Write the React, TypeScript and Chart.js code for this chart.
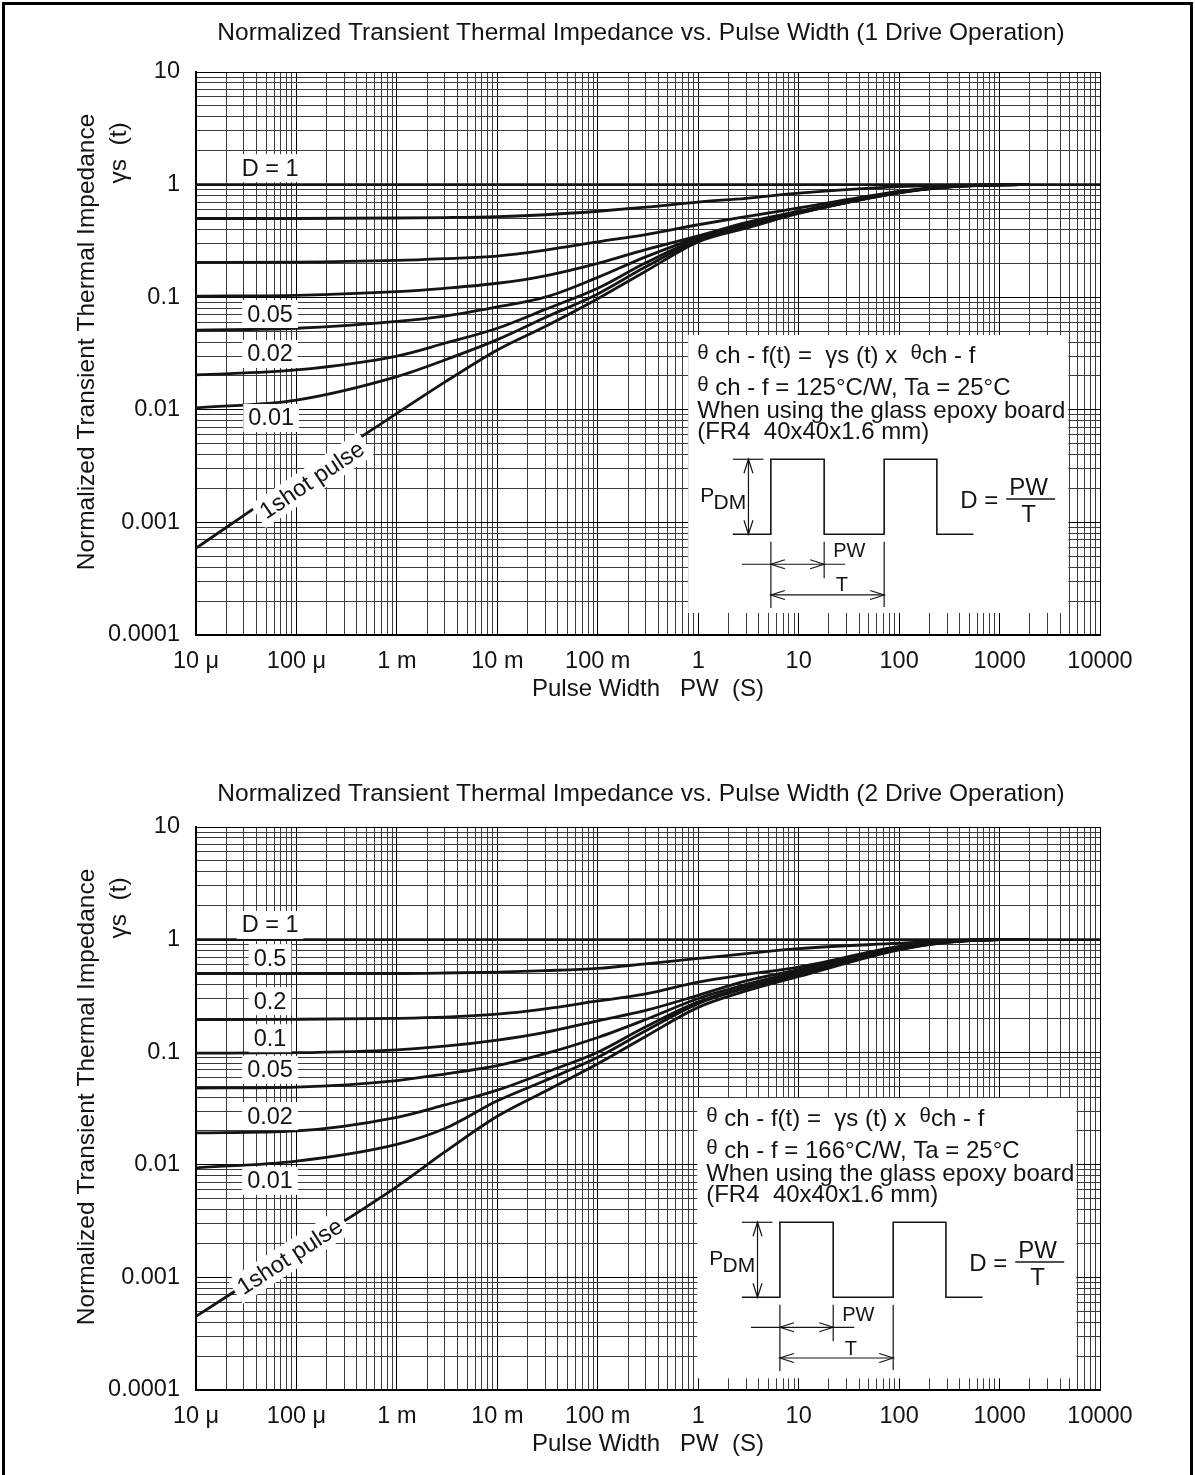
import React, { useEffect, useRef } from 'react';
import { Chart, registerables } from 'chart.js';

Chart.register(...registerables);

const FONT = '"Liberation Sans", Arial, Helvetica, sans-serif';
const INK = '#141414';

// ---------- data ----------
const pulseWidth = [1e-5, 1e-4, 1e-3, 3e-3, 1e-2, 3e-2, 0.1, 0.3, 1, 3, 10, 100, 300, 1000, 2000];
const unityPulseWidth = [1e-5, 1e4];
const unityValues = [1, 1];

// 1 drive operation
const drive1D05 = [0.5, 0.5, 0.505, 0.51, 0.52, 0.54, 0.58, 0.63, 0.7, 0.755, 0.84, 0.96, 0.985, 1.0, 1.0];
const drive1D02 = [0.204, 0.205, 0.212, 0.22, 0.232, 0.262, 0.31, 0.36, 0.44, 0.52, 0.62, 0.87, 0.96, 0.995, 1.0];
const drive1D01 = [0.102, 0.104, 0.112, 0.12, 0.133, 0.155, 0.2, 0.265, 0.35, 0.46, 0.58, 0.86, 0.955, 0.995, 1.0];
const drive1D005 = [0.051, 0.053, 0.061, 0.068, 0.082, 0.1, 0.15, 0.228, 0.34, 0.45, 0.57, 0.855, 0.955, 0.995, 1.0];
const drive1D002 = [0.0204, 0.0226, 0.03, 0.039, 0.053, 0.078, 0.12, 0.202, 0.33, 0.44, 0.565, 0.85, 0.955, 0.995, 1.0];
const drive1D001 = [0.0104, 0.0122, 0.0197, 0.0277, 0.042, 0.066, 0.107, 0.186, 0.32, 0.43, 0.56, 0.85, 0.95, 0.995, 1.0];
const drive1Single = [0.00059, 0.0024, 0.0093, 0.0176, 0.034, 0.055, 0.097, 0.17, 0.31, 0.41, 0.555, 0.845, 0.95, 0.995, 1.0];

// 2 drive operation
const drive2D05 = [0.5, 0.5, 0.5, 0.505, 0.515, 0.53, 0.555, 0.61, 0.68, 0.75, 0.83, 0.93, 0.98, 1.0, 1.0];
const drive2D02 = [0.195, 0.196, 0.2, 0.205, 0.218, 0.243, 0.285, 0.33, 0.42, 0.49, 0.57, 0.87, 0.965, 1.0, 1.0];
const drive2D01 = [0.098, 0.099, 0.105, 0.113, 0.128, 0.15, 0.19, 0.235, 0.32, 0.43, 0.54, 0.85, 0.96, 1.0, 1.0];
const drive2D005 = [0.048, 0.049, 0.056, 0.064, 0.076, 0.097, 0.135, 0.195, 0.3, 0.4, 0.52, 0.84, 0.955, 1.0, 1.0];
const drive2D002 = [0.0192, 0.02, 0.0264, 0.034, 0.046, 0.066, 0.1, 0.168, 0.28, 0.38, 0.5, 0.83, 0.95, 1.0, 1.0];
const drive2D001 = [0.0094, 0.0108, 0.0152, 0.021, 0.037, 0.056, 0.09, 0.155, 0.27, 0.37, 0.49, 0.82, 0.95, 1.0, 1.0];
const drive2Single = [0.00045, 0.0017, 0.0064, 0.013, 0.027, 0.045, 0.079, 0.138, 0.25, 0.35, 0.47, 0.81, 0.945, 1.0, 1.0];

const xTickLabels = ['10 μ', '100 μ', '1 m', '10 m', '100 m', '1', '10', '100', '1000', '10000'];
const yTickLabels = ['0.0001', '0.001', '0.01', '0.1', '1', '10'];

const xTickValues: number[] = [];
for (let e = -5; e < 4; e++) for (let m = 1; m < 10; m++) xTickValues.push(m * Math.pow(10, e));
xTickValues.push(1e4);
const yTickValues: number[] = [];
for (let e = -4; e < 1; e++) for (let m = 1; m < 10; m++) yTickValues.push(m * Math.pow(10, e));
yTickValues.push(10);

const isDecade = (v: number) => {
  const l = Math.log10(v);
  return Math.abs(l - Math.round(l)) < 1e-6;
};

// ---------- chart specs ----------
interface Spec {
  title: string;
  titleY: number;
  series: number[][];
  labels: { text: string; x: number; y: number }[];
  slant: { text: string; x: number; y: number };
  box: { x0: number; x1: number; yTop: number; yBottom: number };
  thetaValue: string;
}

const drive1Spec: Spec = {
  title: 'Normalized Transient Thermal Impedance vs. Pulse Width (1 Drive Operation)',
  titleY: 33,
  series: [drive1D05, drive1D02, drive1D01, drive1D005, drive1D002, drive1D001, drive1Single],
  labels: [
    { text: 'D = 1', x: 5.46e-5, y: 1.4 },
    { text: '0.05', x: 5.46e-5, y: 0.0709 },
    { text: '0.02', x: 5.46e-5, y: 0.0313 },
    { text: '0.01', x: 5.6e-5, y: 0.00846 },
  ],
  slant: { text: '1shot pulse', x: 1.43e-4, y: 2.38e-3 },
  box: { x0: 0.794, x1: 4840, yTop: 0.0462, yBottom: 1.57e-4 },
  thetaValue: ' ch - f = 125°C/W, Ta = 25°C',
};

const drive2Spec: Spec = {
  title: 'Normalized Transient Thermal Impedance vs. Pulse Width (2 Drive Operation)',
  titleY: 39,
  series: [drive2D05, drive2D02, drive2D01, drive2D005, drive2D002, drive2D001, drive2Single],
  labels: [
    { text: 'D = 1', x: 5.46e-5, y: 1.35 },
    { text: '0.5', x: 5.46e-5, y: 0.685 },
    { text: '0.2', x: 5.46e-5, y: 0.284 },
    { text: '0.1', x: 5.46e-5, y: 0.133 },
    { text: '0.05', x: 5.46e-5, y: 0.0698 },
    { text: '0.02', x: 5.46e-5, y: 0.0271 },
    { text: '0.01', x: 5.46e-5, y: 0.00721 },
  ],
  slant: { text: '1shot pulse', x: 8.6e-5, y: 1.53e-3 },
  box: { x0: 0.977, x1: 5820, yTop: 0.0392, yBottom: 1.27e-4 },
  thetaValue: ' ch - f = 166°C/W, Ta = 25°C',
};

// ---------- drawing helpers ----------
function drawRuns(ctx: CanvasRenderingContext2D, x: number, y: number, runs: [string, number, number][]) {
  let cx = x;
  ctx.textAlign = 'left';
  ctx.textBaseline = 'alphabetic';
  for (const [text, size, dy] of runs) {
    ctx.font = `${size}px ${FONT}`;
    ctx.fillText(text, cx, y + dy);
    cx += ctx.measureText(text).width;
  }
}

function arrowHead(ctx: CanvasRenderingContext2D, tx: number, ty: number, dx: number, dy: number) {
  const len = 14;
  const half = 4.5;
  const bx = tx - dx * len;
  const by = ty - dy * len;
  const px = -dy;
  const py = dx;
  ctx.beginPath();
  ctx.moveTo(bx + px * half, by + py * half);
  ctx.lineTo(tx, ty);
  ctx.lineTo(bx - px * half, by - py * half);
  ctx.stroke();
}

function seg(ctx: CanvasRenderingContext2D, x1: number, y1: number, x2: number, y2: number) {
  ctx.beginPath();
  ctx.moveTo(x1, y1);
  ctx.lineTo(x2, y2);
  ctx.stroke();
}

function makeAnnotations(spec: Spec) {
  return {
    id: 'thermalAnnotations',
    afterDatasetsDraw(chart: any) {
      const ctx: CanvasRenderingContext2D = chart.ctx;
      const xs = chart.scales.x;
      const ys = chart.scales.y;
      ctx.save();

      // curve labels on white
      const size = 23.5;
      for (const lb of spec.labels) {
        const cx = xs.getPixelForValue(lb.x);
        const cy = ys.getPixelForValue(lb.y);
        ctx.font = `${size}px ${FONT}`;
        const w = ctx.measureText(lb.text).width;
        ctx.fillStyle = '#fff';
        ctx.fillRect(cx - w / 2 - 5, cy - 14, w + 10, 28);
        ctx.fillStyle = INK;
        ctx.textAlign = 'center';
        ctx.textBaseline = 'middle';
        ctx.fillText(lb.text, cx, cy + 1);
      }

      // slanted single pulse label
      const meta = chart.getDatasetMeta(chart.data.datasets.length - 1);
      const p0 = meta.data[0];
      const p2 = meta.data[2];
      const ang = Math.atan2(p2.y - p0.y, p2.x - p0.x);
      {
        const cx = xs.getPixelForValue(spec.slant.x);
        const cy = ys.getPixelForValue(spec.slant.y);
        ctx.save();
        ctx.translate(cx, cy);
        ctx.rotate(ang);
        ctx.font = `${size}px ${FONT}`;
        const w = ctx.measureText(spec.slant.text).width;
        ctx.fillStyle = '#fff';
        ctx.fillRect(-w / 2 - 5, -14, w + 10, 28);
        ctx.fillStyle = INK;
        ctx.textAlign = 'center';
        ctx.textBaseline = 'middle';
        ctx.fillText(spec.slant.text, 0, 1);
        ctx.restore();
      }

      // inset box
      const L = xs.getPixelForValue(spec.box.x0);
      const R = xs.getPixelForValue(spec.box.x1);
      const T = ys.getPixelForValue(spec.box.yTop);
      const B = ys.getPixelForValue(spec.box.yBottom);
      ctx.fillStyle = '#fff';
      ctx.fillRect(L, T, R - L, B - T);

      const fs = 24;
      ctx.fillStyle = INK;
      drawRuns(ctx, L + 9, T, [['θ', 20.5, 24], [' ch - f(t) =  ', fs, 28], ['γ', fs, 28], ['s (t) x  ', fs, 28], ['θ', 20.5, 24], ['ch - f', fs, 28]]);
      drawRuns(ctx, L + 9, T, [['θ', 20.5, 56], [spec.thetaValue, fs, 60]]);
      drawRuns(ctx, L + 9, T, [['When using the glass epoxy board', fs, 83]]);
      drawRuns(ctx, L + 9, T, [['(FR4  40x40x1.6 mm)', fs, 104.5]]);

      // pulse waveform
      ctx.strokeStyle = INK;
      ctx.lineWidth = 1.6;
      const hi = T + 124.3;
      const lo = T + 199.3;
      ctx.beginPath();
      ctx.moveTo(L + 44.7, lo);
      ctx.lineTo(L + 82.7, lo);
      ctx.lineTo(L + 82.7, hi);
      ctx.lineTo(L + 136, hi);
      ctx.lineTo(L + 136, lo);
      ctx.lineTo(L + 196, lo);
      ctx.lineTo(L + 196, hi);
      ctx.lineTo(L + 248.7, hi);
      ctx.lineTo(L + 248.7, lo);
      ctx.lineTo(L + 285.3, lo);
      ctx.stroke();

      ctx.lineWidth = 1.2;
      // P_DM dimension
      seg(ctx, L + 44.7, hi, L + 75.3, hi);
      seg(ctx, L + 60.3, hi, L + 60.3, lo);
      arrowHead(ctx, L + 60.3, hi, 0, -1);
      arrowHead(ctx, L + 60.3, lo, 0, 1);
      // PW dimension
      seg(ctx, L + 82.7, T + 206.7, L + 82.7, T + 273);
      seg(ctx, L + 136, T + 206.7, L + 136, T + 243.3);
      seg(ctx, L + 196, T + 206.7, L + 196, T + 272);
      seg(ctx, L + 53.7, T + 229.3, L + 157, T + 229.3);
      arrowHead(ctx, L + 82.7, T + 229.3, -1, 0);
      arrowHead(ctx, L + 136, T + 229.3, 1, 0);
      // T dimension
      seg(ctx, L + 82.7, T + 260, L + 196, T + 260);
      arrowHead(ctx, L + 82.7, T + 260, -1, 0);
      arrowHead(ctx, L + 196, T + 260, 1, 0);

      ctx.fillStyle = INK;
      ctx.textBaseline = 'middle';
      ctx.textAlign = 'left';
      ctx.font = `20px ${FONT}`;
      ctx.fillText('PW', L + 145, T + 217);
      ctx.textAlign = 'center';
      ctx.fillText('T', L + 153.7, T + 251);
      ctx.textAlign = 'left';
      ctx.font = `21px ${FONT}`;
      ctx.fillText('P', L + 12, T + 161.7);
      ctx.fillText('DM', L + 25.3, T + 168.5);
      ctx.font = `${fs}px ${FONT}`;
      ctx.fillText('D =', L + 272, T + 166.7);
      ctx.textAlign = 'center';
      ctx.fillText('PW', L + 340.3, T + 153.3);
      ctx.fillText('T', L + 340.3, T + 180);
      ctx.lineWidth = 1.6;
      seg(ctx, L + 318, T + 164, L + 367, T + 164);

      ctx.restore();
    },
    afterDraw(chart: any) {
      const ctx: CanvasRenderingContext2D = chart.ctx;
      ctx.save();
      ctx.fillStyle = INK;
      ctx.font = `24.5px ${FONT}`;
      ctx.textAlign = 'center';
      ctx.textBaseline = 'middle';
      ctx.fillText(spec.title, 641, spec.titleY);
      ctx.save();
      ctx.translate(87, 342);
      ctx.rotate(-Math.PI / 2);
      ctx.fillText('Normalized Transient Thermal Impedance', 0, 0);
      ctx.restore();
      ctx.translate(119, 153);
      ctx.rotate(-Math.PI / 2);
      ctx.fillText('γs  (t)', 0, 0);
      ctx.restore();
    },
  };
}

function buildConfig(spec: Spec): any {
  const lineStyle = {
    showLine: true,
    pointRadius: 0,
    borderColor: INK,
    borderWidth: 2.8,
    fill: false,
    cubicInterpolationMode: 'monotone',
  };
  const seriesNames = ['0.5', '0.2', '0.1', '0.05', '0.02', '0.01', '1shot pulse'];
  const datasets: any[] = [
    { ...lineStyle, label: 'D = 1', data: unityPulseWidth.map((t, i) => ({ x: t, y: unityValues[i] })) },
    ...spec.series.map((vals, k) => ({
      ...lineStyle,
      label: seriesNames[k],
      data: pulseWidth.map((t, i) => ({ x: t, y: vals[i] })),
    })),
  ];
  const gridColor = (c: any) => (c.tick && isDecade(c.tick.value) ? '#000' : '#3a3a3a');
  const tickFont = { size: 23.5, family: FONT };
  return {
    type: 'scatter',
    data: { datasets },
    options: {
      responsive: false,
      maintainAspectRatio: false,
      animation: false,
      events: [],
      layout: { padding: { top: 72, right: 95, left: 0, bottom: 0 } },
      plugins: { legend: { display: false }, tooltip: { enabled: false }, title: { display: false } },
      scales: {
        x: {
          type: 'logarithmic',
          min: 1e-5,
          max: 1e4,
          afterBuildTicks: (s: any) => {
            s.ticks = xTickValues.map((v) => ({ value: v }));
          },
          afterFit: (s: any) => {
            s.height = 120;
          },
          ticks: {
            autoSkip: false,
            maxRotation: 0,
            minRotation: 0,
            padding: 12,
            color: INK,
            font: tickFont,
            callback: (v: number) => (isDecade(v) ? xTickLabels[Math.round(Math.log10(v)) + 5] : ''),
          },
          grid: { color: gridColor, lineWidth: 1, drawTicks: false },
          border: { color: '#000', width: 2 },
          title: {
            display: true,
            text: 'Pulse Width   PW  (S)',
            color: INK,
            font: { size: 24, family: FONT },
            padding: { top: 0, bottom: 51 },
          },
        },
        y: {
          type: 'logarithmic',
          min: 1e-4,
          max: 10,
          afterBuildTicks: (s: any) => {
            s.ticks = yTickValues.map((v) => ({ value: v }));
          },
          afterFit: (s: any) => {
            s.width = 196;
          },
          ticks: {
            autoSkip: false,
            padding: 16,
            color: INK,
            font: tickFont,
            callback: (v: number) => (isDecade(v) ? yTickLabels[Math.round(Math.log10(v)) + 4] : ''),
          },
          grid: { color: gridColor, lineWidth: 1, drawTicks: false },
          border: { color: '#000', width: 2 },
        },
      },
    },
    plugins: [makeAnnotations(spec)],
  };
}

function ThermalChart({ spec, top }: { spec: Spec; top: number }) {
  const ref = useRef<HTMLCanvasElement>(null);
  useEffect(() => {
    if (!ref.current) return;
    const chart = new Chart(ref.current, buildConfig(spec));
    return () => chart.destroy();
  }, [spec]);
  return (
    <canvas
      ref={ref}
      width={1195}
      height={755}
      style={{ position: 'absolute', left: 0, top, width: 1195, height: 755 }}
    />
  );
}

export default function App() {
  return (
    <div style={{ position: 'absolute', left: 0, top: 0, width: 1195, height: 1475, overflow: 'hidden', background: '#fff' }}>
      <ThermalChart spec={drive1Spec} top={0} />
      <ThermalChart spec={drive2Spec} top={755} />
      <div
        style={{
          position: 'absolute',
          left: 2,
          top: 2,
          width: 1191,
          height: 1500,
          boxSizing: 'border-box',
          border: '3px solid #000',
          borderBottom: 'none',
          pointerEvents: 'none',
        }}
      />
    </div>
  );
}
